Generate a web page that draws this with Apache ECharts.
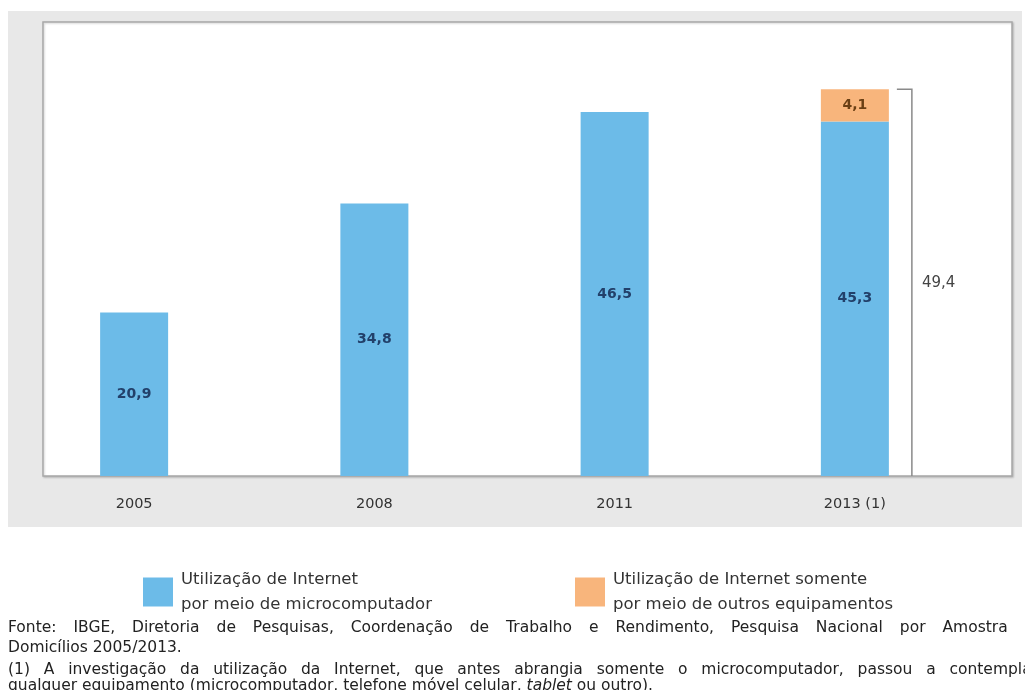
<!DOCTYPE html>
<html>
<head>
<meta charset="utf-8">
<script src="https://cdn.jsdelivr.net/npm/echarts@6/dist/echarts.min.js"></script>
<style>
html,body{margin:0;padding:0;background:#fff;}
#chart{width:1025px;height:690px;}
</style>
</head>
<body>
<div id="chart"></div>
<script>
const categories = ['2005', '2008', '2011', '2013 (1)'];
const microcomputador = [20.9, 34.8, 46.5, 45.3];
const outrosEquipamentos = [null, null, null, 4.1];
const totals = [[3, 49.4]];
const seriesNames = ['Utilização de Internet\npor meio de microcomputador', 'Utilização de Internet somente\npor meio de outros equipamentos'];
const sourceLines = [
  'Fonte: IBGE, Diretoria de Pesquisas, Coordenação de Trabalho e Rendimento, Pesquisa Nacional por Amostra de',
  'Domicílios 2005/2013.'
];
const noteLines = [
  '(1) A investigação da utilização da Internet, que antes abrangia somente o microcomputador, passou a contemplar',
  'qualquer equipamento (microcomputador, telefone móvel celular, tablet ou outro).'
];

const FONT = '"DejaVu Sans", "Liberation Sans", Arial, sans-serif';
const fmt = v => String(v).replace('.', ',');

// justified footnote lines (layout helper, text stays real text)
const NOTE_SIZE = 15.5;
const measureCtx = document.createElement('canvas').getContext('2d');
measureCtx.font = NOTE_SIZE + 'px ' + FONT;
function lineElements(text, x, y, justifyWidth) {
  const words = text.split(' ');
  const space = measureCtx.measureText(' ').width;
  const widths = words.map(w => measureCtx.measureText(w).width);
  const total = widths.reduce((a, b) => a + b, 0);
  let gap = space;
  if (justifyWidth && words.length > 1) {
    gap = Math.max(space * 0.8, (justifyWidth - total) / (words.length - 1));
  }
  const els = [];
  let cx = x;
  words.forEach((w, i) => {
    const isItalic = w === 'tablet';
    els.push({ type: 'text', x: cx, y: y,
      style: { text: w, font: (isItalic ? 'italic ' : '') + NOTE_SIZE + 'px ' + FONT, fill: '#222', textVerticalAlign: 'middle' } });
    cx += widths[i] + gap;
  });
  return els;
}

const graphics = [
  { type: 'rect', z: -10, shape: { x: 8, y: 11, width: 1014, height: 516 }, style: { fill: '#e8e8e8' } },
  { type: 'rect', z: -9, shape: { x: 43, y: 22, width: 969, height: 454 },
    style: { fill: '#ffffff', stroke: '#a8a8a8', lineWidth: 1.5, shadowBlur: 2, shadowColor: 'rgba(0,0,0,0.18)', shadowOffsetX: 1, shadowOffsetY: 1 } }
];
graphics.push(...lineElements(sourceLines[0], 8, 628, 1036));
graphics.push(...lineElements(sourceLines[1], 8, 648, 0));
graphics.push(...lineElements(noteLines[0], 8, 670, 1030));
graphics.push(...lineElements(noteLines[1], 8, 686, 0));

const legendText = { fontSize: 16.5, color: '#333', lineHeight: 25, fontFamily: FONT, padding: [0, 0, 0, 3] };

const chart = echarts.init(document.getElementById('chart'));
chart.setOption({
  animation: false,
  textStyle: { fontFamily: FONT },
  graphic: graphics,
  legend: [
    { data: [seriesNames[0]], left: 138, top: 562, itemWidth: 30, itemHeight: 29, icon: 'rect', textStyle: legendText },
    { data: [seriesNames[1]], left: 570, top: 562, itemWidth: 30, itemHeight: 29, icon: 'rect', textStyle: legendText }
  ],
  grid: { left: 14, width: 961, top: 22, height: 454 },
  xAxis: {
    type: 'category', data: categories,
    axisLine: { show: false }, axisTick: { show: false },
    axisLabel: { color: '#333', fontSize: 14.5, margin: 21, fontFamily: FONT }
  },
  yAxis: { type: 'value', min: 0, max: 58, show: false, splitLine: { show: false } },
  series: [
    { name: seriesNames[0], type: 'bar', stack: 'total', data: microcomputador, barWidth: 68,
      itemStyle: { color: '#6cbbe8' },
      label: { show: true, position: 'inside', color: '#22406a', fontSize: 14, fontWeight: 'bold', fontFamily: FONT,
        formatter: p => fmt(p.value) } },
    { name: seriesNames[1], type: 'bar', stack: 'total', data: outrosEquipamentos, barWidth: 68,
      itemStyle: { color: '#f8b57c' },
      label: { show: true, position: 'inside', color: '#6a3f14', fontSize: 14, fontWeight: 'bold', fontFamily: FONT,
        formatter: p => p.value == null ? '' : fmt(p.value) } },
    { type: 'custom', silent: true, data: totals, z: 5,
      renderItem: (params, api) => {
        const top = api.coord([api.value(0), api.value(1)]);
        const base = api.coord([api.value(0), 0]);
        const x = top[0] + 57;
        return {
          type: 'group',
          children: [
            { type: 'polyline', shape: { points: [[x - 15, top[1]], [x, top[1]], [x, base[1]]] },
              style: { stroke: '#8a8a8a', lineWidth: 1.5, fill: null } },
            { type: 'text', style: { x: x + 10, y: (top[1] + base[1]) / 2, text: fmt(api.value(1)),
              font: '15px ' + FONT, fill: '#444', textVerticalAlign: 'middle' } }
          ]
        };
      }
    }
  ]
});
</script>
</body>
</html>
